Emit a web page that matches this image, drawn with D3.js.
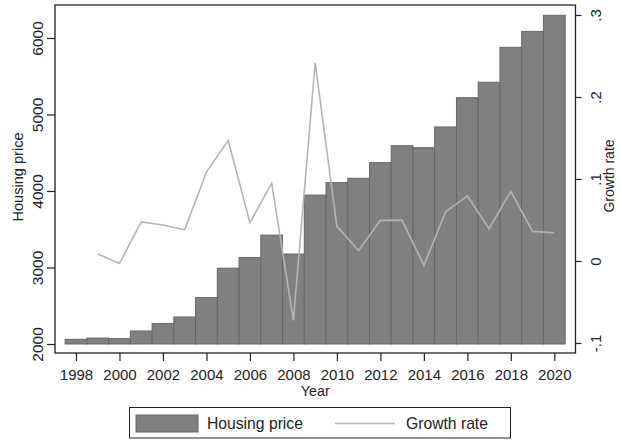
<!DOCTYPE html>
<html>
<head>
<meta charset="utf-8">
<script src="https://cdn.jsdelivr.net/npm/d3@7"></script>
<style>
  html, body { margin: 0; padding: 0; background: #fff; }
  svg { display: block; font-family: Arial, "Liberation Sans", sans-serif; }
</style>
</head>
<body>
<svg id="chart" width="621" height="440"></svg>
<script>
// Annual housing price (bars, left axis) and its growth rate (line, right axis)
const years = [1998, 1999, 2000, 2001, 2002, 2003, 2004, 2005, 2006, 2007, 2008,
               2009, 2010, 2011, 2012, 2013, 2014, 2015, 2016, 2017, 2018, 2019, 2020];
const housingPrice = [2061, 2078, 2070, 2170, 2267, 2353, 2607, 2991, 3130, 3423, 3176,
                      3947, 4110, 4166, 4370, 4592, 4566, 4837, 5220, 5421, 5878, 6086, 6297];
const growthRate = [null, 0.0085, -0.003, 0.0476, 0.044, 0.038, 0.1085, 0.147, 0.0467, 0.095, -0.0724,
                    0.2418, 0.0422, 0.0129, 0.0495, 0.0495, -0.0054, 0.0598, 0.0793, 0.0394, 0.0849, 0.0361, 0.0345];
const xTicks = [1998, 2000, 2002, 2004, 2006, 2008, 2010, 2012, 2014, 2016, 2018, 2020];
const leftTicks = [2000, 3000, 4000, 5000, 6000];
const rightTicks = [-0.1, 0, 0.1, 0.2, 0.3];
const rightTickLabels = ["-.1", "0", ".1", ".2", ".3"];
const seriesNames = ["Housing price", "Growth rate"];

const svg = d3.select("#chart");
const frame = { left: 55, right: 575.5, top: 5, bottom: 353 };
const barFill = "#808080", barStroke = "#666666", lineColor = "#b5b5b5", ink = "#222";

const x = d3.scaleLinear().domain([1998, 2020]).range([76, 554.3]);
const yL = d3.scaleLinear().domain([2000, 6000]).range([344, 38]);
const yR = d3.scaleLinear().domain([-0.1, 0.3]).range([343, 15]);
const bw = x(1999) - x(1998);

const data = years.map((yr, i) => ({ year: yr, price: housingPrice[i], growth: growthRate[i] }));

// bars
svg.append("g").selectAll("rect").data(data).join("rect")
  .attr("x", d => x(d.year) - bw / 2)
  .attr("width", bw)
  .attr("y", d => yL(d.price))
  .attr("height", d => yL(2000) - yL(d.price))
  .attr("fill", barFill)
  .attr("stroke", barStroke)
  .attr("stroke-width", 1);

// growth line
const line = d3.line()
  .defined(d => d.growth !== null)
  .x(d => x(d.year))
  .y(d => yR(d.growth));
svg.append("path").datum(data)
  .attr("d", line)
  .attr("fill", "none")
  .attr("stroke", lineColor)
  .attr("stroke-width", 1.6)
  .attr("stroke-linejoin", "miter");

// plot frame
svg.append("rect")
  .attr("x", frame.left).attr("y", frame.top)
  .attr("width", frame.right - frame.left).attr("height", frame.bottom - frame.top)
  .attr("fill", "none").attr("stroke", ink).attr("stroke-width", 1.3);

function styleAxis(g) {
  g.select(".domain").remove();
  g.selectAll(".tick line").attr("stroke", ink).attr("stroke-width", 1.2);
  g.selectAll(".tick text").attr("fill", ink);
}

// bottom axis
const gx = svg.append("g")
  .attr("transform", `translate(0,${frame.bottom})`)
  .call(d3.axisBottom(x).tickValues(xTicks).tickFormat(d3.format("d")).tickSize(8))
  .call(styleAxis);
gx.selectAll(".tick text").attr("y", 27).attr("dy", 0).attr("font-size", 15);

// left axis
const gl = svg.append("g")
  .attr("transform", `translate(${frame.left},0)`)
  .call(d3.axisLeft(yL).tickValues(leftTicks).tickFormat(d3.format("d")).tickSize(8))
  .call(styleAxis);
gl.selectAll(".tick text")
  .attr("x", 0).attr("y", -12).attr("dy", 0)
  .attr("transform", "rotate(-90)")
  .attr("text-anchor", "middle")
  .attr("font-size", 15.5);

// right axis
const gr = svg.append("g")
  .attr("transform", `translate(${frame.right},0)`)
  .call(d3.axisRight(yR).tickValues(rightTicks).tickFormat((d, i) => rightTickLabels[i]).tickSize(6))
  .call(styleAxis);
gr.selectAll(".tick text")
  .attr("x", 0).attr("y", 25).attr("dy", 0)
  .attr("transform", "rotate(-90)")
  .attr("text-anchor", "middle")
  .attr("font-size", 15);

// axis titles
svg.append("text")
  .attr("transform", "translate(23,177) rotate(-90)")
  .attr("text-anchor", "middle").attr("font-size", 14.6).attr("fill", ink)
  .text("Housing price");
svg.append("text")
  .attr("transform", "translate(614,176) rotate(-90)")
  .attr("text-anchor", "middle").attr("font-size", 14).attr("fill", ink)
  .text("Growth rate");
svg.append("text")
  .attr("x", (frame.left + frame.right) / 2).attr("y", 396)
  .attr("text-anchor", "middle").attr("font-size", 14.3).attr("fill", ink)
  .text("Year");

// legend
const lg = svg.append("g");
lg.append("rect")
  .attr("x", 129.5).attr("y", 407.5).attr("width", 381).attr("height", 30.5)
  .attr("fill", "#fff").attr("stroke", ink).attr("stroke-width", 1);
lg.append("rect")
  .attr("x", 136).attr("y", 415).attr("width", 62).attr("height", 17)
  .attr("fill", barFill).attr("stroke", barStroke).attr("stroke-width", 1);
lg.append("text")
  .attr("x", 207).attr("y", 428.5).attr("font-size", 15.7).attr("fill", ink)
  .text(seriesNames[0]);
lg.append("line")
  .attr("x1", 335).attr("x2", 395).attr("y1", 423.5).attr("y2", 423.5)
  .attr("stroke", lineColor).attr("stroke-width", 1.6);
lg.append("text")
  .attr("x", 406).attr("y", 428.5).attr("font-size", 15.7).attr("fill", ink)
  .text(seriesNames[1]);
</script>
</body>
</html>
